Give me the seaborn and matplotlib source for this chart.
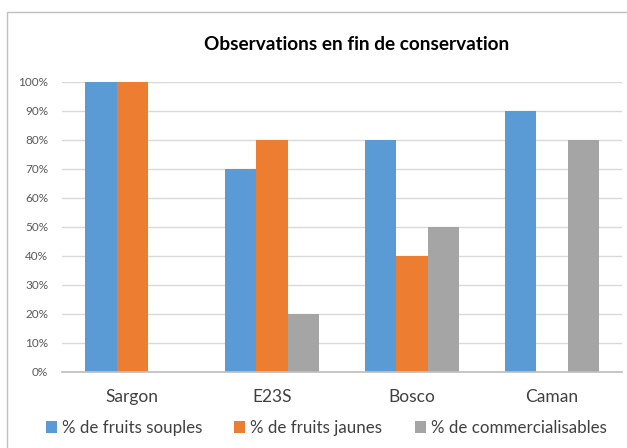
import pandas as pd
import matplotlib.pyplot as plt
import seaborn as sns
from matplotlib.patches import Rectangle
from matplotlib.ticker import PercentFormatter

# Données
varietes = ["Sargon", "E23S", "Bosco", "Caman"]
series = ["% de fruits souples", "% de fruits jaunes", "% de commercialisables"]
souples = [1.00, 0.70, 0.80, 0.90]
jaunes = [1.00, 0.80, 0.40, 0.00]
commercialisables = [0.00, 0.20, 0.50, 0.80]
couleurs = ["#5B9BD5", "#ED7D31", "#A5A5A5"]

df = pd.DataFrame({
    "Variete": varietes * 3,
    "Serie": [s for s in series for _ in varietes],
    "Valeur": souples + jaunes + commercialisables,
})

sns.set_theme(style="white")
plt.rcParams['font.family'] = ['Lato', 'DejaVu Sans']

fig = plt.figure(figsize=(6.27, 4.48), dpi=100)
ax = fig.add_axes([0.099, 0.170, 0.893, 0.647])

sns.barplot(data=df, x="Variete", y="Valeur", hue="Serie", order=varietes,
            hue_order=series, palette=couleurs, width=0.667, saturation=1,
            linewidth=0, ax=ax, legend=True)

ax.set_ylim(0, 1.0)
ax.set_yticks([i / 10 for i in range(11)])
ax.yaxis.set_major_formatter(PercentFormatter(1.0, decimals=0))
ax.set_xlim(-0.5, 3.5)
ax.grid(axis="y", color="#D9D9D9", linewidth=1)
ax.set_axisbelow(True)
for s in ["left", "right", "top"]:
    ax.spines[s].set_visible(False)
ax.spines["bottom"].set_color("#BFBFBF")
ax.tick_params(axis="y", labelsize=8.5, colors="#595959", length=0, pad=10)
ax.tick_params(axis="x", labelsize=12.5, colors="#404040", length=0, pad=12)
ax.set_xlabel("")
ax.set_ylabel("")

handles, labels = ax.get_legend_handles_labels()
ax.get_legend().remove()
fig.legend(handles, labels, loc="center", bbox_to_anchor=(0.52, 0.045), ncol=3,
           frameon=False, fontsize=12.2, handlelength=0.65, handleheight=0.65,
           handletextpad=0.3, columnspacing=1.9, labelcolor="#404040")

fig.text(0.569, 0.9, "Observations en fin de conservation", ha="center",
         va="center", fontsize=13.7, fontweight="bold", color="#000000")

# cadre du graphique (coupé à droite et en bas)
fig.patches.append(Rectangle((0.011, -0.1), 1.2, 1.073, transform=fig.transFigure,
                             fill=False, edgecolor="#BFBFBF", linewidth=1))

fig.savefig("out.png", dpi=100)
